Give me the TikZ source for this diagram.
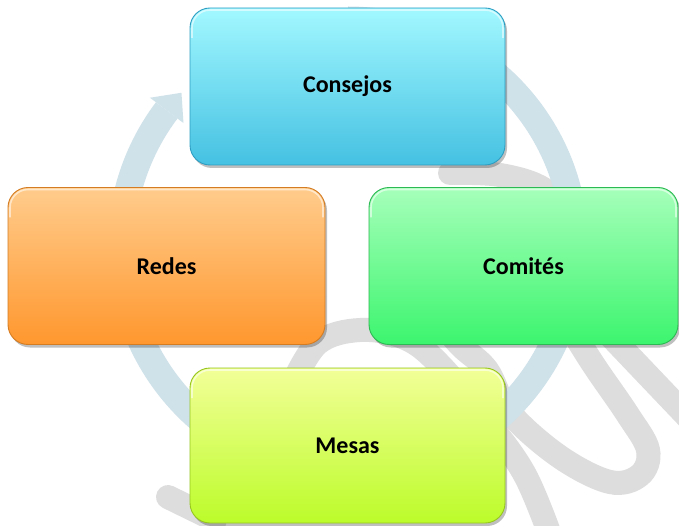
\documentclass[tikz,border=0pt]{standalone}
\usepackage{fontspec}
\setmainfont{Carlito}
\usetikzlibrary{calc,shadows}
\definecolor{wmgray}{HTML}{DDDDDD}
\definecolor{ringc}{HTML}{CFE1E9}
\definecolor{cyanT}{HTML}{A2F8FF}
\definecolor{cyanB}{HTML}{45C1E2}
\definecolor{cyanD}{HTML}{2E9DC2}
\definecolor{greenT}{HTML}{A6FFBA}
\definecolor{greenB}{HTML}{3CF56E}
\definecolor{greenD}{HTML}{2CB852}
\definecolor{orangeT}{HTML}{FFCC8C}
\definecolor{orangeB}{HTML}{FF972E}
\definecolor{orangeD}{HTML}{D47C22}
\definecolor{limeT}{HTML}{F2FF98}
\definecolor{limeB}{HTML}{BCFC2A}
\definecolor{limeD}{HTML}{96C61E}
\begin{document}
\begin{tikzpicture}[x=1pt,y=1pt,
  box/.style={rectangle, rounded corners=20pt, minimum width=315pt, minimum height=157pt,
    inner sep=0pt, outer sep=0pt, font=\fontsize{24}{28}\selectfont\bfseries, line width=0.9pt,
    drop shadow={shadow xshift=2pt, shadow yshift=-3pt, fill=black, opacity=0.25}},
  glint/.style={draw=white, opacity=0.55, line width=1.6pt, rounded corners=18pt},
  wm/.style={draw=wmgray, line width=24pt, line cap=round},
  ring/.style={draw=ringc, line width=27pt}]
\fill[white] (0,0) rectangle (679,525);
\useasboundingbox (0,0) rectangle (679,525);
% watermark
\draw[wm] plot[smooth, tension=0.6] coordinates {(292,140) (318,182) (360,195) (405,187) (440,160) (490,100) (525,50) (550,-10)};
\draw[wm] plot[smooth, tension=0.6] coordinates {(430,215) (460,180) (487,155) (510,112) (560,68) (610,43) (640,50) (648,75) (628,110) (595,158) (568,200) (548,225)};
\draw[wm] (600,200) -- (700,95);
\draw[wm] plot[smooth, tension=0.6] coordinates {(450,352) (500,350) (545,335) (575,300)};
\draw[wm] (168,28) -- (215,5);
% circular arrow
\coordinate (c) at (348,278);
\draw[ring] ($(c)+(90:227)$) arc[start angle=90, end angle=-217, radius=227];
\fill[ringc] ($(c)+(143:248)$) -- ($(c)+(137.2:227)$) -- ($(c)+(143:206)$) -- cycle;
% boxes
\node[box, top color=cyanT, bottom color=cyanB, draw=cyanD] (consejos) at (347.5,438.5) {Consejos};
\node[box, minimum width=309pt, top color=greenT, bottom color=greenB, draw=greenD] (comites) at (523.5,259) {Comités};
\node[box, minimum width=317pt, top color=orangeT, bottom color=orangeB, draw=orangeD] (redes) at (166.5,259) {Redes};
\node[box, minimum height=155pt, top color=limeT, bottom color=limeB, draw=limeD] (mesas) at (347.5,79.5) {Mesas};
% top highlights
\foreach \n in {consejos,comites,redes,mesas}{
  \draw[glint] ([shift={(2pt,-30pt)}]\n.north west) -- ([shift={(2pt,-2pt)}]\n.north west)
    -- ([shift={(-2pt,-2pt)}]\n.north east) -- ([shift={(-2pt,-30pt)}]\n.north east);
}
\end{tikzpicture}
\end{document}
